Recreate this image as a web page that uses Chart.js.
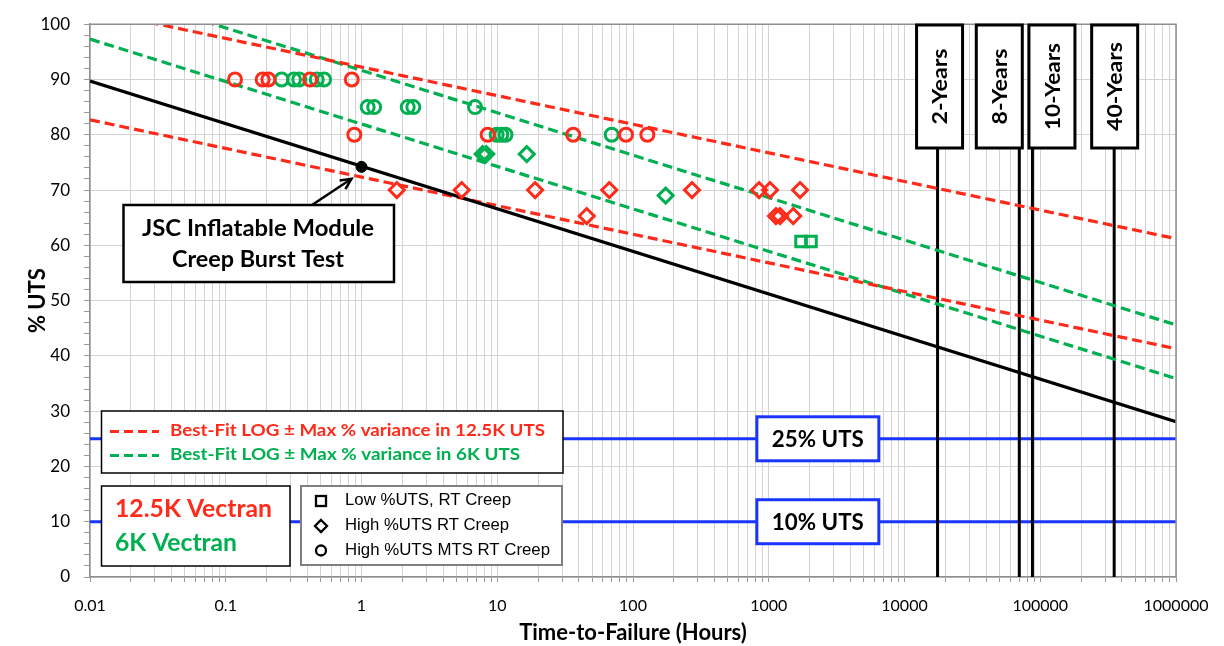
<!DOCTYPE html>
<html>
<head>
<meta charset="utf-8">
<script src="https://cdn.jsdelivr.net/npm/chart.js@4.4.1/dist/chart.umd.min.js"></script>
<style>
  html, body { margin: 0; padding: 0; background: #fff; }
</style>
</head>
<body>
<canvas id="creepChart" width="1224" height="646"></canvas>
<script>
// x axis (log hours)
const xDecades = [0.01, 0.1, 1, 10, 100, 1000, 10000, 100000, 1000000];
const xTickLabels = ['0.01', '0.1', '1', '10', '100', '1000', '10000', '100000', '1000000'];

// test points, [hours, %UTS]
const redCircles = [[0.117, 90], [0.187, 90], [0.206, 90], [0.418, 90], [0.848, 90],
  [0.885, 80], [8.5, 80], [36.3, 80], [88.8, 80], [127.6, 80]];
const greenCircles = [[0.258, 90], [0.318, 90], [0.348, 90], [0.468, 90], [0.53, 90],
  [1.11, 85], [1.24, 85], [2.19, 85], [2.41, 85], [6.86, 85],
  [9.9, 80], [10.7, 80], [11.5, 80], [69.7, 80]];
const redDiamonds = [[1.82, 70], [5.47, 70], [19.0, 70], [66.9, 70], [272, 70], [848, 70], [1021, 70], [1700, 70],
  [45.6, 65.3], [1130, 65.3], [1211, 65.3], [1514, 65.3]];
const greenDiamonds = [[7.8, 76.5], [8.3, 76.5], [16.5, 76.5], [174, 69]];
const greenSquares = [[1730, 60.7], [2046, 60.7]];
const jscPoint = [[1, 74.2]];

// fit lines (end points at 0.01 h and 1e6 h)
const blackFit = [[0.01, 89.7], [1000000, 28.1]];
const redUpper = [[0.01, 102.6], [1000000, 61.2]];
const redLower = [[0.01, 82.7], [1000000, 41.3]];
const greenUpper = [[0.01, 107.0], [1000000, 45.6]];
const greenLower = [[0.01, 97.3], [1000000, 35.9]];

// design life lines and UTS limits
const yearHours = [17520, 70080, 87600, 350400];
const yearLabels = ['2-Years', '8-Years', '10-Years', '40-Years'];
const utsLevels = [25, 10];
const utsLabels = ['25% UTS', '10% UTS'];

const RED = '#ff2a1a';
const GREEN = '#00b050';
const BLUE = '#1a35ff';

const pts = arr => arr.map(([x, y]) => ({x, y}));

function markers(data, color, style, r) {
  return { data: pts(data), pointStyle: style, pointRadius: r, borderColor: color,
    backgroundColor: 'rgba(0,0,0,0)', pointBorderWidth: 3, showLine: false, order: 0 };
}
function fitLine(data, color, dashed) {
  return { data: pts(data), showLine: true, borderColor: color, borderWidth: 3.2,
    borderDash: dashed ? [10, 5] : [], pointRadius: 0, order: 5 };
}

const datasets = [
  fitLine(blackFit, '#000', false),
  fitLine(redUpper, RED, true),
  fitLine(redLower, RED, true),
  fitLine(greenUpper, GREEN, true),
  fitLine(greenLower, GREEN, true),
  ...utsLevels.map(v => ({ data: [{x: 0.01, y: v}, {x: 1000000, y: v}], showLine: true,
    borderColor: BLUE, borderWidth: 3, pointRadius: 0, order: 8 })),
  ...yearHours.map(h => ({ data: [{x: h, y: 0}, {x: h, y: 100}], showLine: true,
    borderColor: '#000', borderWidth: 3, pointRadius: 0, order: 7 })),
  markers(redCircles, RED, 'circle', 6.5),
  markers(greenCircles, GREEN, 'circle', 6.5),
  markers(redDiamonds, RED, 'rectRot', 7.5),
  markers(greenDiamonds, GREEN, 'rectRot', 7.5),
  markers(greenSquares, GREEN, 'rect', 7.5),
  { data: pts(jscPoint), pointStyle: 'circle', pointRadius: 5.5, backgroundColor: '#000',
    borderColor: '#000', showLine: false, order: 0 }
];

// text squeezed/stretched to a target width (mimics the narrow original font)
function fitText(ctx, text, x, y, w, font, color, align, rot) {
  ctx.save();
  ctx.font = font;
  ctx.fillStyle = color;
  ctx.textBaseline = 'middle';
  ctx.textAlign = align || 'center';
  const k = w / ctx.measureText(text).width;
  ctx.translate(x, y);
  if (rot) ctx.rotate(rot);
  ctx.scale(k, 1);
  ctx.fillText(text, 0, 0);
  ctx.restore();
}
function box(ctx, x0, y0, x1, y1, stroke, lw) {
  ctx.fillStyle = '#fff';
  ctx.fillRect(x0, y0, x1 - x0, y1 - y0);
  ctx.strokeStyle = stroke;
  ctx.lineWidth = lw;
  ctx.strokeRect(x0, y0, x1 - x0, y1 - y0);
}

const yearBoxShift = [2, -20, 19.5, 0.5];
const yearTextWidth = [76, 76, 87, 89];

const overlay = {
  id: 'overlay',
  afterDatasetsDraw(chart) {
    const {ctx, chartArea: a, scales: {x, y}} = chart;
    ctx.save();
    // frame top/right
    ctx.strokeStyle = '#8f8f8f';
    ctx.lineWidth = 1.5;
    ctx.beginPath();
    ctx.moveTo(a.left, a.top); ctx.lineTo(a.right, a.top); ctx.lineTo(a.right, a.bottom);
    ctx.stroke();

    // year labels
    yearHours.forEach((h, i) => {
      const cx = x.getPixelForValue(h) + yearBoxShift[i];
      box(ctx, cx - 23, 25, cx + 23, 148, '#000', 3);
      fitText(ctx, yearLabels[i], cx + 1, 86.5, yearTextWidth[i], 'bold 21px Lato', '#000', 'center', -Math.PI / 2);
    });

    // UTS limit labels
    utsLevels.forEach((v, i) => {
      const cy = y.getPixelForValue(v);
      const cx = x.getPixelForValue(2300);
      box(ctx, cx - 61, cy - 22, cx + 61, cy + 22, BLUE, 3);
      fitText(ctx, utsLabels[i], cx + 0, cy + 1, 92, 'bold 22px Lato', '#000');
    });

    // fit line legend
    box(ctx, 101.5, 411, 563, 473, '#000', 1.5);
    ctx.lineWidth = 3;
    ctx.setLineDash([9, 5]);
    ctx.strokeStyle = RED;
    ctx.beginPath(); ctx.moveTo(110, 431.5); ctx.lineTo(159, 431.5); ctx.stroke();
    ctx.strokeStyle = GREEN;
    ctx.beginPath(); ctx.moveTo(110, 455.5); ctx.lineTo(159, 455.5); ctx.stroke();
    ctx.setLineDash([]);
    fitText(ctx, 'Best-Fit LOG \u00b1 Max % variance in 12.5K UTS', 170, 431, 375, 'bold 17px Lato', RED, 'left');
    fitText(ctx, 'Best-Fit LOG \u00b1 Max % variance in 6K UTS', 170, 455, 350, 'bold 17px Lato', GREEN, 'left');

    // material legend
    box(ctx, 101.5, 486, 290, 566, '#000', 1.5);
    fitText(ctx, '12.5K Vectran', 115, 509, 157, 'bold 25px Lato', RED, 'left');
    fitText(ctx, '6K Vectran', 115, 543, 122, 'bold 25px Lato', GREEN, 'left');

    // marker legend
    box(ctx, 301, 486, 562, 565, '#808080', 2);
    ctx.strokeStyle = '#000';
    ctx.lineWidth = 2.3;
    ctx.strokeRect(316, 496, 10, 10);
    ctx.beginPath();
    ctx.moveTo(321, 520); ctx.lineTo(327, 526); ctx.lineTo(321, 532); ctx.lineTo(315, 526); ctx.closePath();
    ctx.stroke();
    ctx.beginPath(); ctx.arc(321, 550.5, 5, 0, Math.PI * 2); ctx.stroke();
    fitText(ctx, 'Low %UTS, RT Creep', 345, 501, 166, '16px "Liberation Sans"', '#000', 'left');
    fitText(ctx, 'High %UTS RT Creep', 345, 526, 164, '16px "Liberation Sans"', '#000', 'left');
    fitText(ctx, 'High %UTS MTS RT Creep', 345, 551, 205, '16px "Liberation Sans"', '#000', 'left');

    // JSC callout
    const px = x.getPixelForValue(jscPoint[0][0]);
    const py = y.getPixelForValue(jscPoint[0][1]);
    const tipX = px - 10, tipY = py + 12;
    ctx.strokeStyle = '#000';
    ctx.lineWidth = 2.5;
    ctx.beginPath(); ctx.moveTo(312, 205); ctx.lineTo(tipX, tipY); ctx.stroke();
    const ang = Math.atan2(tipY - 205, tipX - 312);
    ctx.beginPath();
    ctx.moveTo(tipX - 12 * Math.cos(ang - 0.45), tipY - 12 * Math.sin(ang - 0.45));
    ctx.lineTo(tipX, tipY);
    ctx.lineTo(tipX - 12 * Math.cos(ang + 0.45), tipY - 12 * Math.sin(ang + 0.45));
    ctx.stroke();
    box(ctx, 123.5, 205, 394, 282, '#000', 2.5);
    fitText(ctx, 'JSC Inflatable Module', 258, 229, 232, 'bold 22px Lato', '#000');
    fitText(ctx, 'Creep Burst Test', 258, 260, 172, 'bold 22px Lato', '#000');
    ctx.restore();
  }
};

const ctx = document.getElementById('creepChart').getContext('2d');
const creepChart = new Chart(ctx, {
  type: 'scatter',
  data: { datasets },
  options: {
    responsive: false,
    animation: false,
    devicePixelRatio: 1,
    layout: { padding: { top: 15, right: 48, left: 0, bottom: 0 } },
    plugins: {
      legend: { display: false },
      tooltip: { enabled: false }
    },
    scales: {
      x: {
        type: 'logarithmic',
        min: 0.01,
        max: 1000000,
        afterBuildTicks: (s) => {
          const t = [];
          xDecades.forEach((d, i) => {
            if (i === xDecades.length - 1) { t.push({value: d}); return; }
            for (let m = 1; m <= 9; m++) t.push({value: d * m});
          });
          s.ticks = t;
        },
        afterFit: (s) => { s.height = 69; },
        ticks: {
          autoSkip: false, maxRotation: 0, minRotation: 0, padding: 14, color: '#000',
          font: { family: 'Lato', size: 16 },
          callback: (v, i) => (i % 9 === 0 ? xTickLabels[i / 9] : '')
        },
        grid: { color: '#d3d3d3', tickColor: '#9a9a9a', tickLength: 5 },
        border: { color: '#8f8f8f', width: 1.5 },
        title: {
          display: true, text: 'Time-to-Failure (Hours)', color: '#000',
          font: { family: 'Lato', size: 22, weight: 'bold' }, padding: { top: 0, bottom: 0 }
        }
      },
      y: {
        min: 0,
        max: 100,
        afterFit: (s) => { s.width = 90; },
        ticks: {
          stepSize: 2, autoSkip: false, padding: 14, color: '#000',
          font: { family: 'Lato', size: 17 },
          callback: (v) => (v % 10 === 0 ? v : '')
        },
        grid: {
          color: (c) => (c.tick && c.tick.value % 10 === 0 ? '#d3d3d3' : 'rgba(0,0,0,0)'),
          tickColor: '#9a9a9a', tickLength: 6
        },
        border: { color: '#8f8f8f', width: 1.5 },
        title: {
          display: true, text: '% UTS', color: '#000',
          font: { family: 'Lato', size: 22, weight: 'bold' }, padding: { top: 25, bottom: 0 }
        }
      }
    }
  },
  plugins: [overlay]
});
</script>
</body>
</html>
